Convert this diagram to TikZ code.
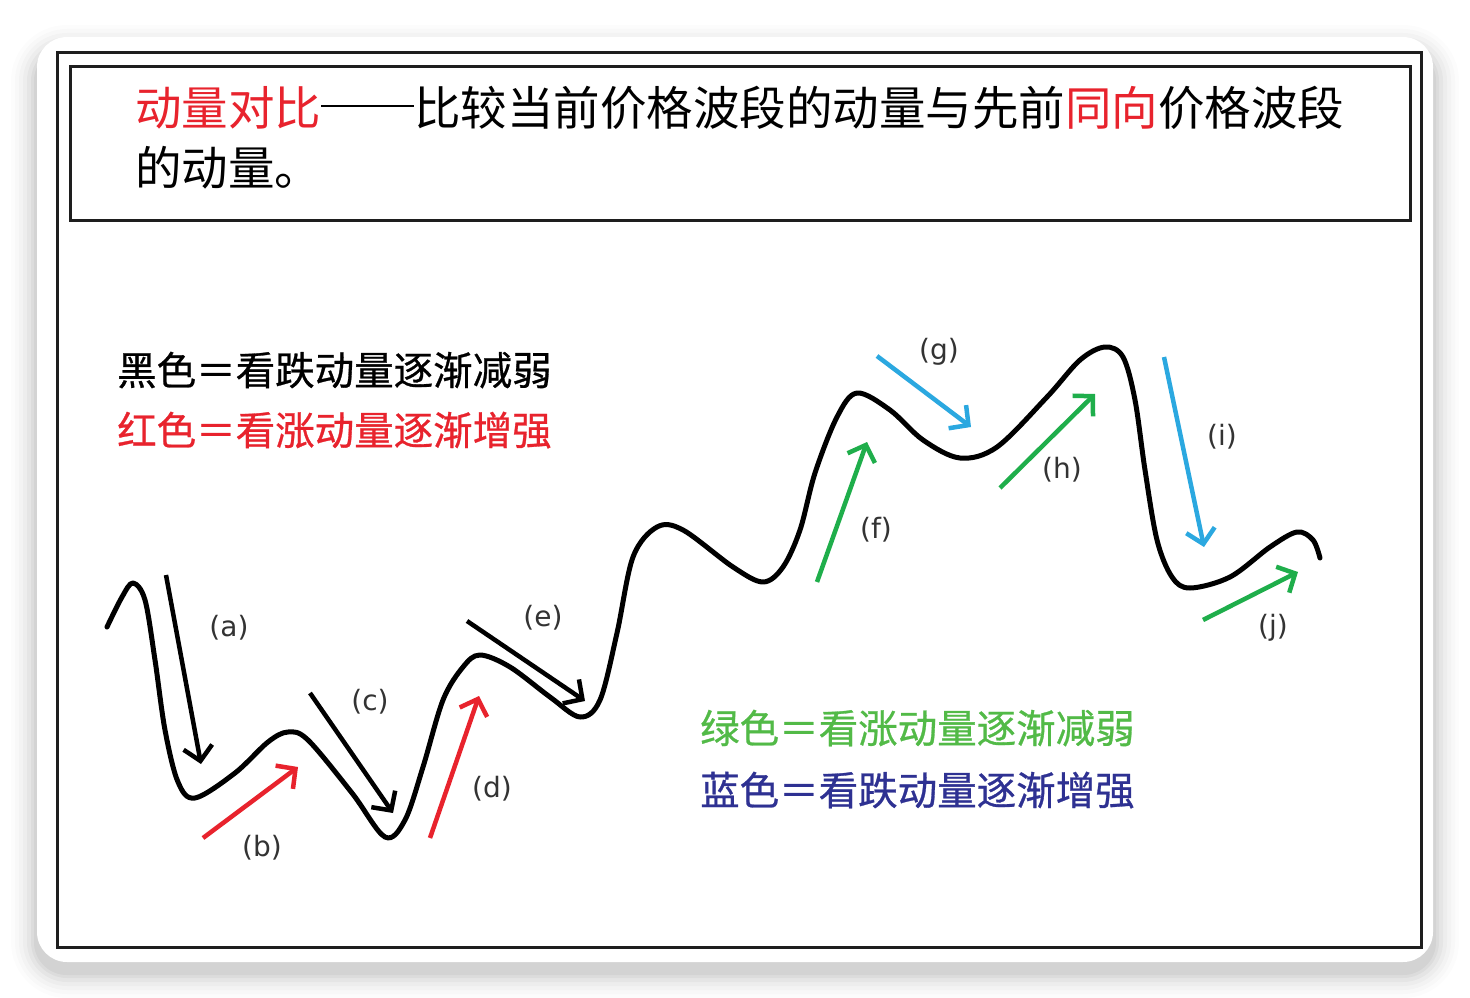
\documentclass[tikz,border=0pt]{standalone}
\usepackage{fontspec}
\newfontfamily\cjk{Noto Sans CJK SC}
\newfontfamily\cjkm[FakeBold=0.7]{Noto Sans CJK SC}
\newfontfamily\lblfont{DejaVu Sans}
\usetikzlibrary{arrows.meta}
\definecolor{hred}{HTML}{E8232D}
\definecolor{agreen}{HTML}{1FAE4B}
\definecolor{tgreen}{HTML}{52BA47}
\definecolor{ablue}{HTML}{2BA8E0}
\definecolor{tblue}{HTML}{2E3192}
\definecolor{frame}{HTML}{1E1E1E}
\definecolor{lbl}{HTML}{333333}
\newcommand{\longdash}{\raisebox{0.40em}{\rule{2em}{0.045em}}}
\tikzset{
  hdr/.style={anchor=base west, inner sep=0pt, font=\cjk\fontsize{46.5}{55}\selectfont},
  legend/.style={anchor=base west, inner sep=0pt, font=\cjkm\fontsize{39.5}{48}\selectfont},
  lab/.style={inner sep=0pt, text=lbl, font=\lblfont\fontsize{28}{34}\selectfont},
  wave/.style={line width=5pt, line cap=round, line join=round, black},
  arr/.style={line width=4.5pt, -{Straight Barb[length=14pt,width=29pt,line width=4.5pt]}},
}
\begin{document}
\begin{tikzpicture}[x=1pt,y=-1pt]
\useasboundingbox (0,0) rectangle (1470,998);
\fill[white] (0,0) rectangle (1470,998);
% card shadow
\foreach \e/\o in {26/0.012,22/0.016,18/0.02,14/0.025,10/0.03,6/0.035,3/0.04}{
  \fill[black,opacity=\o,rounded corners=30+\e] (37-\e,37-\e+14) rectangle (1433+\e,962+\e+10);
}
\fill[white,rounded corners=30] (37,37) rectangle (1433,962);
% frames
\draw[frame,line width=3pt] (57,53) rectangle (1421,947);
\draw[frame,line width=3pt] (70,67) rectangle (1410,220);
% header
\node[hdr] (h1) at (135,125.5) {\textcolor{hred}{动量对比}\longdash 比较当前价格波段的动量与先前\textcolor{hred}{同向}价格波段};
\node[hdr] (h2) at (135,185.5) {的动量。};
% legends
\node[legend] (l1) at (117,385) {黑色＝看跌动量逐渐减弱};
\node[legend,text=hred] (l2) at (117,445) {红色＝看涨动量逐渐增强};
\node[legend,text=tgreen] (l3) at (700,743) {绿色＝看涨动量逐渐减弱};
\node[legend,text=tblue] (l4) at (700,805) {蓝色＝看跌动量逐渐增强};
% wave
\draw[wave] plot[smooth,tension=0.55] coordinates {
(107,627) (122,597) (133,583) (145,600) (155,660) (165,730) (178,782) (195,798) (235,773) (268,742) (288,732) (308,740) (352,793) (385,837) (405,820) (423,767) (443,700) (463,667) (480,655) (510,667) (550,697) (580,717) (600,700) (617,633) (633,557) (657,527) (683,530) (733,567) (763,582) (783,567) (800,530) (815,473) (837,417) (857,393) (890,410) (923,440) (960,458) (997,447) (1047,397) (1080,360) (1105,347) (1123,357) (1135,400) (1145,470) (1157,540) (1172,577) (1190,588) (1230,577) (1270,547) (1297,532) (1313,540) (1320,558)};
% arrow endpoints
\coordinate (a1) at (166,575); \coordinate (a2) at (201,764);
\coordinate (b1) at (203,838); \coordinate (b2) at (298,767);
\coordinate (c1) at (310,693); \coordinate (c2) at (393,813);
\coordinate (d1) at (430,838); \coordinate (d2) at (479,696);
\coordinate (e1) at (467,621); \coordinate (e2) at (585,701);
\coordinate (f1) at (817,582); \coordinate (f2) at (867,442);
\coordinate (g1) at (877,356); \coordinate (g2) at (971,427);
\coordinate (h1a) at (1000,488); \coordinate (h2a) at (1095,394);
\coordinate (i1) at (1164,357); \coordinate (i2) at (1204,547);
\coordinate (j1) at (1203,620); \coordinate (j2) at (1298,572);
\draw[arr,black] (a1) -- (a2);
\draw[arr,hred] (b1) -- (b2);
\draw[arr,black] (c1) -- (c2);
\draw[arr,hred] (d1) -- (d2);
\draw[arr,black] (e1) -- (e2);
\draw[arr,agreen] (f1) -- (f2);
\draw[arr,ablue] (g1) -- (g2);
\draw[arr,agreen] (h1a) -- (h2a);
\draw[arr,ablue] (i1) -- (i2);
\draw[arr,agreen] (j1) -- (j2);
% labels
\node[lab] (la) at (229,628) {(a)};
\node[lab] (lb) at (262,848) {(b)};
\node[lab] (lc) at (370,702) {(c)};
\node[lab] (ld) at (492,789) {(d)};
\node[lab] (le) at (543,618) {(e)};
\node[lab] (lf) at (876,530) {(f)};
\node[lab] (lg) at (939,352) {(g)};
\node[lab] (lh) at (1062,470) {(h)};
\node[lab] (li) at (1222,437) {(i)};
\node[lab] (lj) at (1273,628) {(j)};
\end{tikzpicture}
\end{document}
